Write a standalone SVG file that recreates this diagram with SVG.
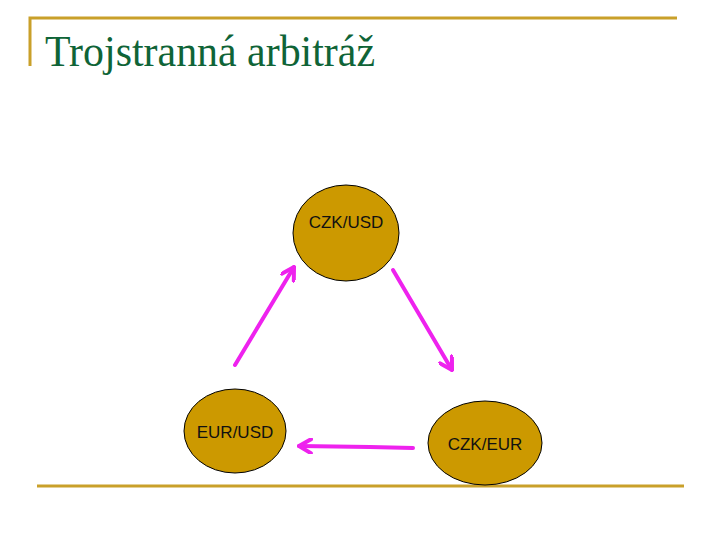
<svg xmlns="http://www.w3.org/2000/svg" width="720" height="540" viewBox="0 0 720 540">
<defs>
<style>
.rule{stroke:#C9A02A;stroke-width:3;fill:none}
.node ellipse{fill:#CC9900;stroke:#000;stroke-width:1}
.node text{font-family:"Liberation Sans",Arial,sans-serif;font-size:17px;fill:#111;text-anchor:middle}
.conn{stroke:#EE22EE;stroke-width:4;fill:none;stroke-linecap:round}
.title{font-family:"Liberation Serif","Times New Roman",serif;font-size:44px;fill:#0F6437}
</style>
<marker id="ah" viewBox="0 0 16 16" refX="14" refY="8" markerWidth="16" markerHeight="16" markerUnits="userSpaceOnUse" orient="auto">
<path d="M2,1 L14,8 L2,15" fill="none" stroke="#EE22EE" stroke-width="4" stroke-linecap="round" stroke-linejoin="round"/>
</marker>
</defs>
<rect width="720" height="540" fill="#fff"/>
<path class="rule" d="M30,66 V18 H677"/>
<path class="rule" d="M37,486 H684"/>
<text class="title" x="45" y="66" textLength="330" lengthAdjust="spacingAndGlyphs">Trojstranná arbitráž</text>
<g id="connectors">
<line class="conn" x1="235" y1="365" x2="294" y2="267" marker-end="url(#ah)"/>
<line class="conn" x1="393" y1="270" x2="452" y2="370" marker-end="url(#ah)"/>
<polyline class="conn" points="413,448 370,447 299,446" marker-end="url(#ah)"/>
</g>
<g id="czk-usd" class="node">
<ellipse cx="346" cy="233" rx="53" ry="48"/>
<text x="346" y="228">CZK/USD</text>
</g>
<g id="eur-usd" class="node">
<ellipse cx="235" cy="431" rx="51" ry="42"/>
<text x="235" y="438">EUR/USD</text>
</g>
<g id="czk-eur" class="node">
<ellipse cx="485" cy="443" rx="57" ry="42"/>
<text x="485" y="450">CZK/EUR</text>
</g>
</svg>
